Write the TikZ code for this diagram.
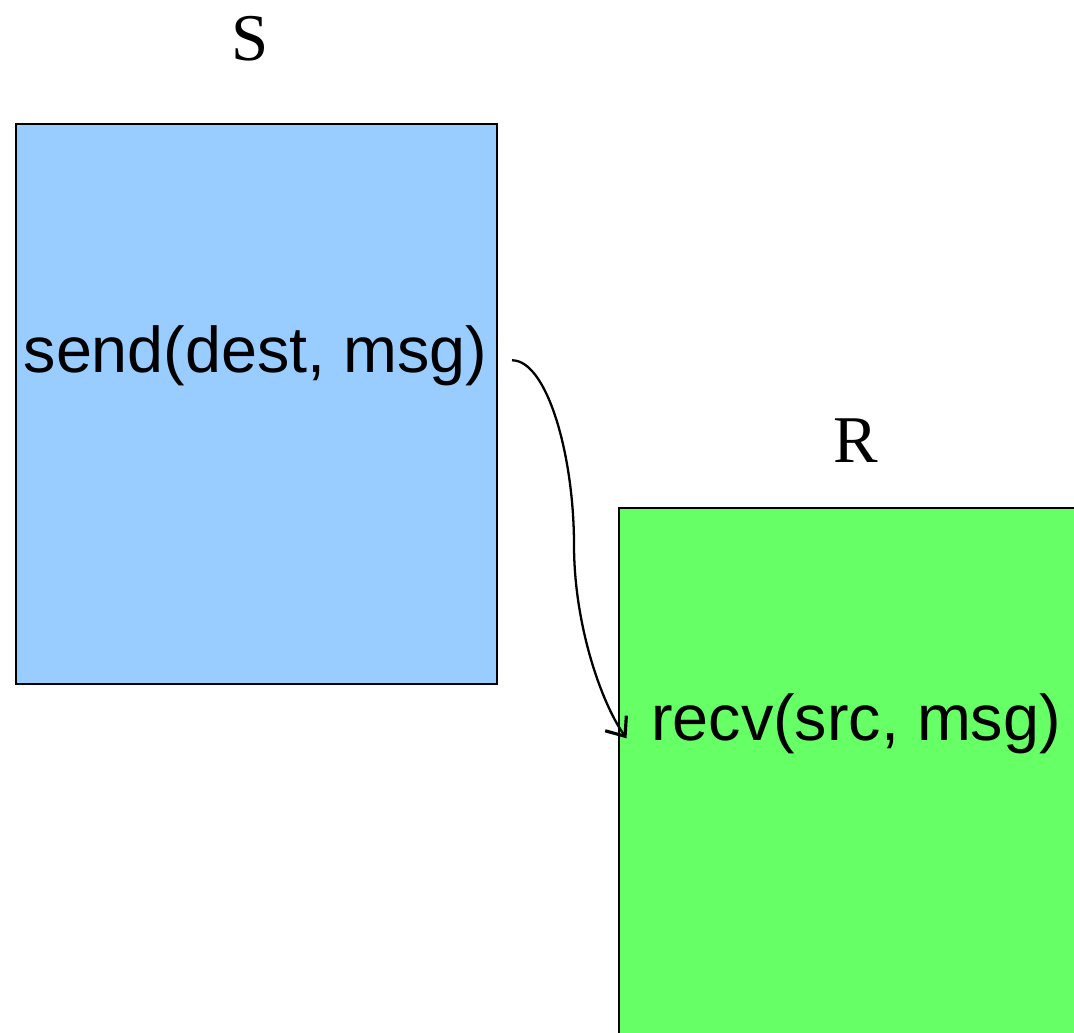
\documentclass[tikz,border=0pt]{standalone}
\usepackage{fontspec}
\usepackage{xcolor}
\usetikzlibrary{positioning,arrows.meta}
\setmainfont{Liberation Serif}
\newfontfamily\callfont{Liberation Sans}

\definecolor{sendblue}{HTML}{99CCFF}
\definecolor{recvgreen}{HTML}{66FF66}

\tikzset{
  procbox/.style={draw, line width=0.8pt, inner sep=0pt},
  callnode/.style={font=\callfont\fontsize{18.4}{22}\selectfont, anchor=base, inner xsep=0.24cm},
  proclabel/.style={font=\fontsize{19}{23}\selectfont, anchor=base},
}

\begin{document}
\begin{tikzpicture}
\clip (0,0) rectangle (10.74,10.32);
\begin{scope}

% process boxes
\node[procbox, fill=sendblue, minimum width=4.81cm, minimum height=5.6cm] (sproc) at (2.565,6.28) {};
\node[procbox, fill=recvgreen, minimum width=5cm, minimum height=6cm] (rproc) at (8.69,2.24) {};

\node[proclabel] (slabel) at (2.50,9.72) {S};
\node[proclabel] (rlabel) at (8.56,5.70) {R};

\node[callnode] (sendcall) at (2.555,6.60) {send(dest, msg)};
\node[callnode] (recvcall) at (8.56,2.92) {recv(src, msg)};

% message path
\coordinate (hop) at (5.74,4.87);
\draw[line width=0.65pt, -{Straight Barb[length=1.6mm,width=2.6mm,line width=0.9pt]}]
  ([yshift=-0.05cm]sendcall.east) .. controls +(0.35,0) and +(0,0.9) .. (hop)
  .. controls +(0,-0.8) and +(-0.25,0.35) .. ([yshift=-0.15cm]recvcall.west);

\end{scope}
\end{tikzpicture}
\end{document}
